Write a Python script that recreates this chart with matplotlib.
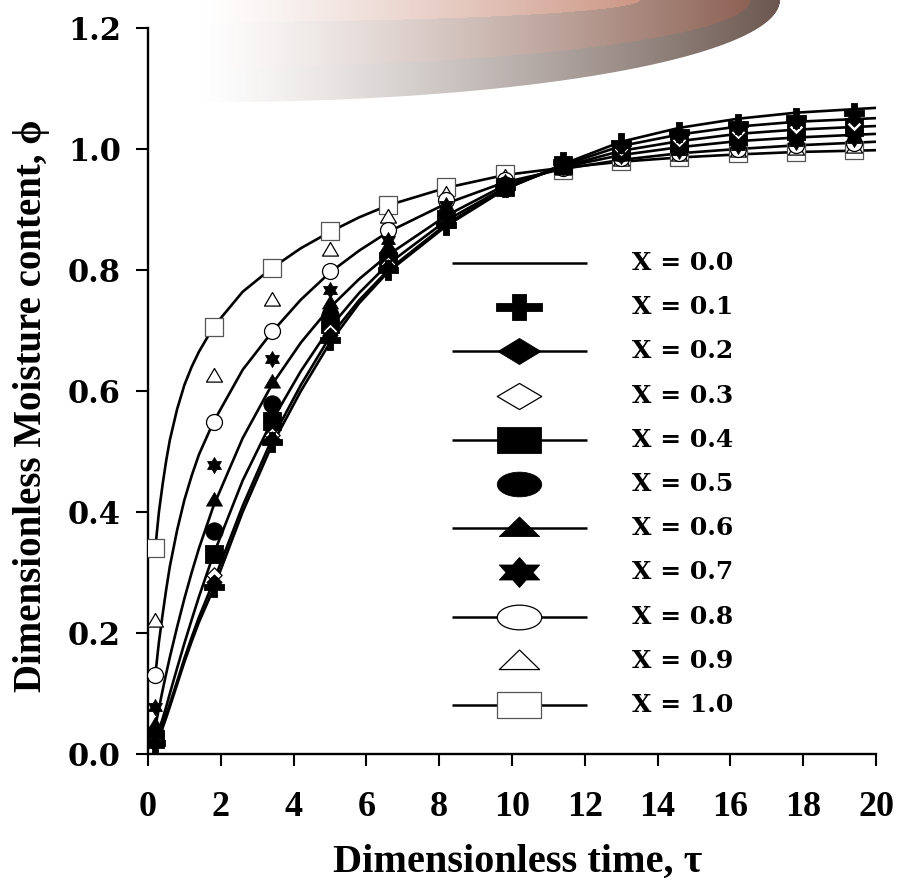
import numpy as np
import matplotlib
matplotlib.use('Agg')
import matplotlib.pyplot as plt
from matplotlib.path import Path

W, H = 915, 884

# sampled points (markers)
tau_pts = [0.2, 1.8, 3.4, 5.0, 6.6, 8.2, 9.8, 11.4, 13.0, 14.6, 16.2, 17.8, 19.4]
phi_x01 = [0.018, 0.276, 0.516, 0.685, 0.800, 0.875, 0.938, 0.978, 1.010, 1.028, 1.042, 1.052, 1.060]
phi_x02 = [0.020, 0.285, 0.520, 0.693, 0.805, 0.878, 0.938, 0.976, 1.005, 1.022, 1.035, 1.044, 1.050]
phi_x03 = [0.022, 0.296, 0.527, 0.700, 0.810, 0.880, 0.938, 0.975, 1.000, 1.015, 1.028, 1.036, 1.042]
phi_x04 = [0.025, 0.331, 0.550, 0.710, 0.815, 0.884, 0.937, 0.973, 0.997, 1.010, 1.022, 1.030, 1.036]
phi_x05 = [0.035, 0.369, 0.578, 0.725, 0.825, 0.890, 0.940, 0.972, 0.993, 1.005, 1.016, 1.023, 1.029]
phi_x06 = [0.048, 0.420, 0.615, 0.745, 0.840, 0.898, 0.942, 0.970, 0.990, 1.000, 1.010, 1.017, 1.022]
phi_x07 = [0.078, 0.478, 0.653, 0.767, 0.850, 0.907, 0.945, 0.970, 0.988, 0.997, 1.005, 1.011, 1.016]
phi_x08 = [0.131, 0.549, 0.699, 0.798, 0.866, 0.915, 0.948, 0.968, 0.985, 0.993, 1.000, 1.006, 1.010]
phi_x09 = [0.220, 0.625, 0.750, 0.833, 0.888, 0.926, 0.953, 0.967, 0.982, 0.990, 0.996, 1.000, 1.003]
phi_x10 = [0.340, 0.706, 0.803, 0.864, 0.907, 0.937, 0.958, 0.965, 0.980, 0.987, 0.993, 0.995, 0.998]

# continuous solution curves
tau_line = [0.2, 0.3, 0.4, 0.5, 0.6, 0.8, 1.0, 1.2, 1.4, 1.8, 2.6, 3.4, 4.2, 5.0, 5.8,
            6.6, 8.2, 9.8, 11.4, 13.0, 14.6, 16.2, 17.8, 20.0]
line_x00 = [0.015, 0.028, 0.043, 0.060, 0.078, 0.115, 0.152, 0.186, 0.218, 0.273, 0.400,
            0.510, 0.600, 0.680, 0.745, 0.797, 0.873, 0.933, 0.975, 1.012, 1.035, 1.050,
            1.060, 1.068]
line_x02 = [0.020, 0.033, 0.048, 0.065, 0.083, 0.120, 0.158, 0.193, 0.226, 0.285, 0.410,
            0.520, 0.610, 0.690, 0.750, 0.800, 0.876, 0.934, 0.973, 1.005, 1.024, 1.037,
            1.045, 1.051]
line_x04 = [0.025, 0.040, 0.058, 0.078, 0.100, 0.142, 0.183, 0.222, 0.260, 0.330, 0.452,
            0.550, 0.633, 0.705, 0.762, 0.810, 0.882, 0.936, 0.971, 0.997, 1.013, 1.025,
            1.032, 1.038]
line_x06 = [0.045, 0.075, 0.105, 0.133, 0.160, 0.210, 0.257, 0.300, 0.340, 0.410, 0.522,
            0.610, 0.680, 0.738, 0.785, 0.825, 0.890, 0.940, 0.970, 0.990, 1.003, 1.013,
            1.019, 1.025]
line_x08 = [0.130, 0.185, 0.230, 0.272, 0.310, 0.370, 0.420, 0.460, 0.495, 0.549, 0.635,
            0.697, 0.751, 0.796, 0.832, 0.863, 0.910, 0.945, 0.967, 0.982, 0.993, 1.000,
            1.006, 1.012]
line_x10 = [0.340, 0.400, 0.445, 0.485, 0.519, 0.570, 0.610, 0.640, 0.665, 0.706, 0.764,
            0.803, 0.836, 0.863, 0.887, 0.907, 0.936, 0.957, 0.969, 0.979, 0.986, 0.991,
            0.995, 0.998]

x_ticks = [0, 2, 4, 6, 8, 10, 12, 14, 16, 18, 20]
y_ticks = [0.0, 0.2, 0.4, 0.6, 0.8, 1.0, 1.2]
legend_labels = ['X = 0.0', 'X = 0.1', 'X = 0.2', 'X = 0.3', 'X = 0.4', 'X = 0.5',
                 'X = 0.6', 'X = 0.7', 'X = 0.8', 'X = 0.9', 'X = 1.0']


def make_marker(kind, sx=1.0):
    """Marker path centred on the origin, optionally stretched sideways."""
    if kind == 'circle':
        c = Path.unit_circle()
        return Path(c.vertices * [sx, 1.0], c.codes)
    if kind == 'star':
        s = Path.unit_regular_star(6, 0.577)
        return Path(s.vertices * [sx, 1.0], s.codes)
    t = 0.3
    verts = {
        'plus': [(-t, -1), (t, -1), (t, -t), (1, -t), (1, t), (t, t), (t, 1),
                 (-t, 1), (-t, t), (-1, t), (-1, -t), (-t, -t)],
        'diamond': [(0, -1), (1, 0), (0, 1), (-1, 0)],
        'square': [(-1, -1), (1, -1), (1, 1), (-1, 1)],
        'triangle': [(-1, -0.7), (1, -0.7), (0, 1)],
    }[kind]
    v = np.array(verts + [verts[0]], float) * [sx, 1.0]
    return Path(v, closed=True)


def draw_swoosh(bg):
    # decorative gradient band across the top of the slide
    xs = np.arange(180, 800) + 0.5
    ys = np.arange(0, 112) + 0.5
    X, Y = np.meshgrid(xs, ys)

    def arc(h, x0, xe):
        t = np.clip((X - x0) / (xe - x0), 0, 1)
        return h * np.sqrt(1 - t ** 2)

    b1 = arc(22, 200, 640)
    b2 = arc(67, 205, 750)
    b3 = arc(102, 215, 780)
    g = np.clip((X - 200) / 580.0, 0, 1) ** 1.25

    top_c = np.array([0.72, 0.42, 0.32])
    mid_c = np.array([0.52, 0.34, 0.28])
    low_c = np.array([0.42, 0.34, 0.31])
    col = np.where((Y < b1)[..., None], top_c,
                   np.where((Y < b2)[..., None], mid_c, low_c))
    rgb = 1 - g[..., None] * (1 - col)
    alpha = np.clip(b3 - Y + 0.5, 0, 1) * np.clip((X - 200) / 10.0, 0, 1)
    img = np.dstack([rgb, alpha])
    bg.imshow(img, extent=[180, 800, 112, 0], interpolation='bilinear', zorder=0)


fig = plt.figure(figsize=(W / 100, H / 100), dpi=100)

bg = fig.add_axes([0, 0, 1, 1], zorder=0)
bg.axis('off')
draw_swoosh(bg)
bg.set_xlim(0, W)
bg.set_ylim(H, 0)

ax = fig.add_axes([148 / W, 1 - 754 / H, 728 / W, 726 / H], zorder=1)
ax.patch.set_alpha(0)

for vals in [line_x00, line_x02, line_x04, line_x06, line_x08, line_x10]:
    ax.plot(tau_line, vals, color='black', lw=1.9, zorder=2, solid_joinstyle='round')

# (values, marker kind, filled, edge colour, size)
series = [
    (phi_x01, 'plus', True, 'black', 14.5),
    (phi_x02, 'diamond', True, 'black', 11),
    (phi_x03, 'diamond', False, 'black', 11),
    (phi_x04, 'square', True, 'black', 12.5),
    (phi_x05, 'circle', True, 'black', 12.5),
    (phi_x06, 'triangle', True, 'black', 11.5),
    (phi_x07, 'star', True, 'black', 11.5),
    (phi_x08, 'circle', False, 'black', 11.5),
    (phi_x09, 'triangle', False, 'black', 11.5),
    (phi_x10, 'square', False, '#555555', 12.5),
]
for vals, kind, filled, ec, ms in reversed(series):
    ax.plot(tau_pts, vals, ls='none', marker=make_marker(kind), ms=ms,
            mfc='black' if filled else 'white', mec=ec,
            mew=0.6 if filled else 0.9, zorder=3)

ax.set_xlim(0, 20)
ax.set_ylim(0, 1.2)
for side in ['top', 'right']:
    ax.spines[side].set_visible(False)
for side in ['left', 'bottom']:
    ax.spines[side].set_linewidth(1.7)
ax.tick_params(direction='out', length=8.5, width=1.5, color='black')
ax.tick_params(axis='x', pad=18)
ax.tick_params(axis='y', pad=11)
ax.set_xticks(x_ticks, labels=[str(v) for v in x_ticks],
              fontfamily='Liberation Serif', fontweight='bold', fontsize=26)
ax.set_yticks(y_ticks, labels=['%.1f' % v for v in y_ticks],
              fontfamily='DejaVu Serif', fontweight='bold', fontsize=22)

fig.text(518 / W, 1 - 872 / H, 'Dimensionless time, \u03c4', ha='center', va='baseline',
         family=['Liberation Serif', 'DejaVu Serif'], fontweight='bold', fontsize=29)
fig.text(32 / W, 1 - 406 / H, 'Dimensionless Moisture content, \u03d5', ha='center',
         va='center', rotation=90, family=['Liberation Serif', 'DejaVu Serif'],
         fontweight='bold', fontsize=28)

# hand-placed legend, markers drawn wider than in the plot
leg = fig.add_axes([0, 0, 1, 1], zorder=2)
leg.set_xlim(0, W)
leg.set_ylim(H, 0)
leg.axis('off')
legend_marks = [None,
                ('plus', True, 'black', 1.7, 33),
                ('diamond', True, 'black', 1.65, 31),
                ('diamond', False, 'black', 1.7, 32),
                ('square', True, 'black', 1.7, 32),
                ('circle', True, 'black', 1.8, 32),
                ('triangle', True, 'black', 1.75, 29),
                ('star', True, 'black', 1.55, 29),
                ('circle', False, 'black', 1.8, 32),
                ('triangle', False, 'black', 1.75, 29),
                ('square', False, '#555555', 1.7, 32)]
row0, step = 263, 44.2
for i, (label, mk) in enumerate(zip(legend_labels, legend_marks)):
    y = row0 + i * step
    if i % 2 == 0:
        leg.plot([452, 587], [y, y], color='black', lw=1.8, solid_capstyle='butt')
    if mk is not None:
        kind, filled, ec, sx, ms = mk
        leg.plot([519], [y], ls='none', marker=make_marker(kind, sx), ms=ms,
                 mfc='black' if filled else 'white', mec=ec,
                 mew=0.6 if filled else 0.9)
    leg.text(632, y, label, ha='left', va='center', family='DejaVu Serif',
             fontweight='bold', fontsize=18)

fig.savefig('out.png', dpi=100)
